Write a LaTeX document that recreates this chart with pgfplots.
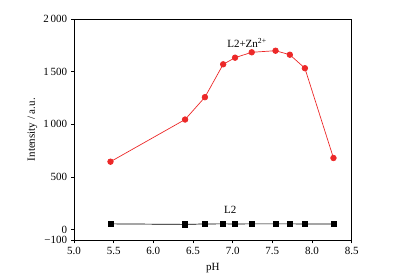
\documentclass[border=0pt]{standalone}
\usepackage{pgfplots}
\pgfplotsset{compat=1.18}
\usepackage{fontspec}
\setmainfont{Liberation Serif}
\definecolor{myred}{RGB}{236,40,40}
\begin{document}
\fontsize{11}{13}\selectfont
\begin{tikzpicture}[x=1pt,y=1pt]
\useasboundingbox (0,0) rectangle (409,280);
\begin{axis}[
  at={(74pt,39.7pt)}, anchor=south west,
  scale only axis, width=277.7pt, height=221.3pt,
  xmin=5.0, xmax=8.5, ymin=-100, ymax=2000,
  axis line style={line width=0.9pt},
  tick style={line width=0.7pt, black},
  tick align=outside, major tick length=3pt,
  xtick pos=bottom, ytick pos=left,
  xtick={5.0,5.5,6.0,6.5,7.0,7.5,8.0,8.5},
  xticklabels={5.0,5.5,6.0,6.5,7.0,7.5,8.0,8.5},
  ytick={-100,0,500,1000,1500,2000},
  yticklabels={−100,0,500,1\,000,1\,500,2\,000},
  xlabel={pH}, ylabel={Intensity / a.u.},
  xlabel style={at={(axis description cs:0.5,0)}, anchor=north, yshift=-19pt},
  ylabel style={at={(axis description cs:0,0.5)}, anchor=south, yshift=33pt},
  ticklabel style={font=\fontsize{11}{13}\selectfont},
  label style={font=\fontsize{11}{13}\selectfont},
]
\addplot[myred, line width=0.7pt, mark=*, mark size=2.8pt, mark options={fill=myred, draw=myred}]
coordinates {
(5.46,646) (6.40,1046) (6.65,1258) (6.88,1570) (7.03,1633) (7.24,1684) (7.54,1699) (7.72,1661) (7.91,1533) (8.27,681)
};
\addplot[black, line width=0.7pt, mark=square*, mark size=2.6pt, mark options={fill=black}]
coordinates {
(5.46,56) (6.40,51) (6.65,55) (6.88,56) (7.03,55) (7.24,56) (7.54,56) (7.72,56) (7.91,55) (8.27,55)
};
\node at (axis cs:7.18,1775) {L2+Zn\textsuperscript{2+}};
\node at (axis cs:6.97,190) {L2};
\end{axis}
\end{tikzpicture}
\end{document}
